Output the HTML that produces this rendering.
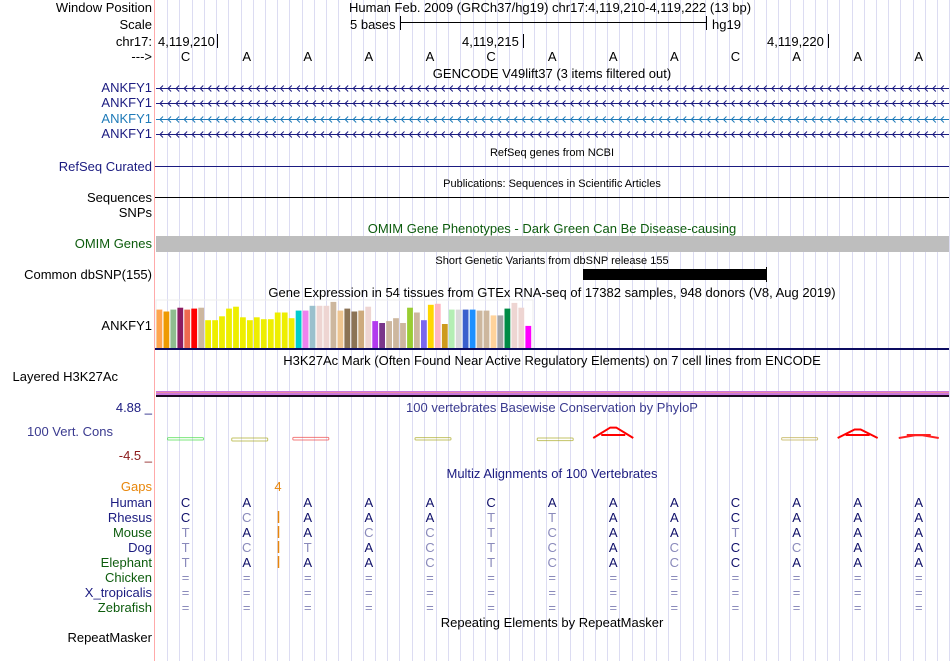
<!DOCTYPE html>
<html><head><meta charset="utf-8"><style>
body{margin:0;background:#fff;}
svg{display:block;font-family:"Liberation Sans",sans-serif;}
</style></head><body>
<svg id="c" width="950" height="661" viewBox="0 0 950 661">
<g id="grid"></g>
<line x1="154.5" y1="0" x2="154.5" y2="661" stroke="#ffaaaa" stroke-width="1"/>
<g font-size="13" text-anchor="end" id="labels">
<text x="152" y="12" fill="#000">Window Position</text>
<text x="152" y="29" fill="#000">Scale</text>
<text x="152" y="46" fill="#000">chr17:</text>
<text x="152" y="61" fill="#000">---&gt;</text>
<text x="152" y="92" fill="#1b1b80">ANKFY1</text>
<text x="152" y="107" fill="#1b1b80">ANKFY1</text>
<text x="152" y="123" fill="#1e7ab8">ANKFY1</text>
<text x="152" y="138" fill="#1b1b80">ANKFY1</text>
<text x="152" y="171" fill="#1b1b80">RefSeq Curated</text>
<text x="152" y="202" fill="#000">Sequences</text>
<text x="152" y="217" fill="#000">SNPs</text>
<text x="152" y="248" fill="#0d5c0d">OMIM Genes</text>
<text x="152" y="279" fill="#000">Common dbSNP(155)</text>
<text x="152" y="330" fill="#000">ANKFY1</text>
<text x="118" y="381" fill="#000">Layered H3K27Ac</text>
<text x="152" y="412" fill="#1b1b80">4.88 _</text>
<text x="113" y="436" fill="#3a3a8f">100 Vert. Cons</text>
<text x="152" y="460" fill="#8b1a1a">-4.5 _</text>
<text x="152" y="491" fill="#e8860a">Gaps</text>
<text x="152" y="507" fill="#1b1b80">Human</text>
<text x="152" y="522" fill="#1b1b80">Rhesus</text>
<text x="152" y="537" fill="#0d5c0d">Mouse</text>
<text x="152" y="552" fill="#1b1b80">Dog</text>
<text x="152" y="567" fill="#0d5c0d">Elephant</text>
<text x="152" y="582" fill="#0d5c0d">Chicken</text>
<text x="152" y="597" fill="#1b1b80">X_tropicalis</text>
<text x="152" y="612" fill="#0d5c0d">Zebrafish</text>
<text x="152" y="642" fill="#000">RepeatMasker</text>
</g>
<g font-size="13" fill="#000">
<text x="349" y="12">Human Feb. 2009 (GRCh37/hg19)   chr17:4,119,210-4,119,222 (13 bp)</text>
<text x="350" y="29">5 bases</text>
<line x1="401" y1="22.5" x2="706" y2="22.5" stroke="#000"/>
<line x1="400.5" y1="16" x2="400.5" y2="30" stroke="#000"/>
<line x1="706.5" y1="16" x2="706.5" y2="30" stroke="#000"/>
<text x="712" y="29">hg19</text>
<text x="158" y="46">4,119,210</text>
<line x1="217.5" y1="34" x2="217.5" y2="48" stroke="#000"/>
<text x="462" y="46">4,119,215</text>
<line x1="523.5" y1="34" x2="523.5" y2="48" stroke="#000"/>
<text x="767" y="46">4,119,220</text>
<line x1="828.5" y1="34" x2="828.5" y2="48" stroke="#000"/>
</g>
<g id="bases" font-size="13" text-anchor="middle"></g>
<g font-size="13" text-anchor="middle">
<text x="552" y="78">GENCODE V49lift37 (3 items filtered out)</text>
<text x="552" y="156" font-size="11">RefSeq genes from NCBI</text>
<text x="552" y="187" font-size="11">Publications: Sequences in Scientific Articles</text>
<text x="552" y="233" fill="#0d5c0d">OMIM Gene Phenotypes - Dark Green Can Be Disease-causing</text>
<text x="552" y="264" font-size="11">Short Genetic Variants from dbSNP release 155</text>
<text x="552" y="297">Gene Expression in 54 tissues from GTEx RNA-seq of 17382 samples, 948 donors (V8, Aug 2019)</text>
<text x="552" y="365">H3K27Ac Mark (Often Found Near Active Regulatory Elements) on 7 cell lines from ENCODE</text>
<text x="552" y="412" fill="#3a3a8f">100 vertebrates Basewise Conservation by PhyloP</text>
<text x="552" y="478" fill="#1b1b80">Multiz Alignments of 100 Vertebrates</text>
<text x="552" y="627">Repeating Elements by RepeatMasker</text>
</g>
<g id="genes"></g>
<line x1="155" y1="166.5" x2="949" y2="166.5" stroke="#1b1b80"/>
<line x1="155" y1="197.5" x2="949" y2="197.5" stroke="#000"/>
<rect x="156" y="236" width="793" height="16" fill="#bebebe"/>
<rect x="583" y="269" width="183" height="11" fill="#000"/>
<line x1="766.5" y1="267" x2="766.5" y2="282" stroke="#000"/>
<rect x="156" y="300" width="377" height="49" fill="none" stroke="#eee"/>
<g id="gtex"></g>
<rect x="155" y="348" width="794" height="2" fill="#0c0c60"/>
<rect x="156" y="391" width="793" height="4" fill="#cc77dd"/>
<rect x="156" y="392" width="793" height="1" fill="#e88aa0"/>
<rect x="156" y="395" width="793" height="2" fill="#1a0a20"/>
<g id="phylop"></g>
<g id="multiz" font-size="13" text-anchor="middle"></g>
</svg>
<script>
var refBases = ["C","A","A","A","A","C","A","A","A","C","A","A","A"];
var rhesusSeq = "CCAAATTAACAAA";
var mouseSeq = "TAACCTCAATAAA";
var dogSeq = "TCTACTCACCCAA";
var elephantSeq = "TAAACTCACCAAA";
var gtexColors = ["#FFA54F","#EE9A00","#8FBC8F","#8B1C62","#EE6A50","#FF0000","#CDB79E",
"#EEEE00","#EEEE00","#EEEE00","#EEEE00","#EEEE00","#EEEE00","#EEEE00","#EEEE00","#EEEE00","#EEEE00","#EEEE00","#EEEE00","#EEEE00",
"#00CDCD","#EE82EE","#9AC0CD","#EED5D2","#EED5D2","#CDB79E","#EEC591","#8B7355","#8B7355","#CDAA7D","#EED5D2",
"#B23AEE","#7A378B","#CDB79E","#CDB79E","#CDB79E","#9ACD32","#CDB79E","#7A67EE","#FFD700","#FFB6C1","#CD9B1D",
"#B4EEB4","#D9D9D9","#3A5FCD","#1E90FF","#CDB79E","#CDB79E","#FFD39B","#A6A6A6","#008B45","#EED5D2","#EED5D2","#FF00FF"];
var gtexValues = [40,38,40,42,40,41,42,
29,29,33,41,43,32,29,32,30,30,37,37,31,
39,39,44,44,44,48,39,41,38,39,43,
28,26,28,31,26,42,37,29,45,46,25,
40,40,40,40,39,39,34,34,41,47,42,23];
var phylopValues = [0.05,-0.15,0.1,0.05,-0.1,1.8,0.05,1.5,0.6];
var phylopPos = [0.0,1.05,2.05,4.05,6.05,7,10.05,11,12];
var phylopColors = ["#44dd44","#aaaa22","#ee4444","#aaaa22","#aaaa22","#ff0000","#bbaa44","#ff0000","#ff2020"];

var NS="http://www.w3.org/2000/svg";
function el(tag,attrs,parent){var e=document.createElementNS(NS,tag);for(var k in attrs)e.setAttribute(k,attrs[k]);parent.appendChild(e);return e;}
var x0=155, bw=61.1;
function xBase(i){return x0+bw*(i+0.5);}
var grid=document.getElementById('grid');
for(var gx=167.2;gx<950;gx+=12.22){var l=el('line',{x1:Math.round(gx)+0.5,y1:0,x2:Math.round(gx)+0.5,y2:661,stroke:'#dcdcf2'},grid);

}
var bg=document.getElementById('bases');
refBases.forEach(function(b,i){var t=el('text',{x:xBase(i),y:61},bg);t.textContent=b;

});
var gg=document.getElementById('genes');
[[88,'#1b1b80'],[103,'#1b1b80'],[119,'#1e7ab8'],[134,'#1b1b80']].forEach(function(r,j){
var g=el('g',{},gg);


el('line',{x1:156,y1:r[0]+0.5,x2:949,y2:r[0]+0.5,stroke:r[1]},g);
var d='';for(var ax=160;ax<948;ax+=8.05){d+='M'+(ax+3)+' '+(r[0]-2.5)+'L'+ax+' '+(r[0]+0.5)+'L'+(ax+3)+' '+(r[0]+3.5);}
el('path',{d:d,stroke:r[1],fill:'none','stroke-width':1},g);});
var gt=document.getElementById('gtex');
var gMax=50, gBase=348, gH=48;
function yG(v){return gBase-v/gMax*gH;}
gtexValues.forEach(function(v,i){var r=el('rect',{x:(156.5+i*6.96).toFixed(1),y:yG(v).toFixed(1),width:5.8,height:(gBase-yG(v)).toFixed(1),fill:gtexColors[i]},gt);

});
var pg=document.getElementById('phylop');
var pZero=439, pTop=408, pMax=4.88;
function yP(v){return pZero-(v/pMax)*(pZero-pTop);}
phylopValues.forEach(function(v,i){
var cx=x0+bw*(phylopPos[i]+0.5), yt=yP(v), s;
if(v>0.3){s=el('path',{d:'M'+(cx-20)+' '+(pZero-1)+'L'+(cx-3)+' '+yt+'H'+(cx+3)+'L'+(cx+20)+' '+(pZero-1)+'M'+(cx-12)+' '+(pZero-4)+'H'+(cx+12),stroke:phylopColors[i],'stroke-width':2,fill:'none'},pg);}
else{s=el('rect',{x:cx-18,y:Math.min(yt,pZero)-1,width:36,height:Math.abs(pZero-yt)+2,fill:'none',stroke:phylopColors[i],'stroke-width':1,'stroke-opacity':0.7,rx:1},pg);}

});
var mg=document.getElementById('multiz');
var g4=el('text',{x:278,y:491,fill:'#e8860a'},mg);g4.textContent='4';


var rows=[refBases.join(''),rhesusSeq,mouseSeq,dogSeq,elephantSeq];
rows.forEach(function(seq,r){for(var i=0;i<13;i++){var c=seq[i];
var dark=(r==0)||c==refBases[i];
var t=el('text',{x:xBase(i),y:507+r*15,fill:dark?'#10106a':'#8a8abb'},mg);t.textContent=c;

}});
for(var r=0;r<3;r++){for(var i=0;i<13;i++){var t=el('text',{x:xBase(i),y:582+r*15,fill:'#8a8abb'},mg);t.textContent='=';

}}
for(var r=1;r<5;r++){var gl=el('line',{x1:278.5,y1:496+r*15,x2:278.5,y2:508+r*15,stroke:'#e8860a','stroke-width':1.5},mg);

}
</script>
</body></html>
